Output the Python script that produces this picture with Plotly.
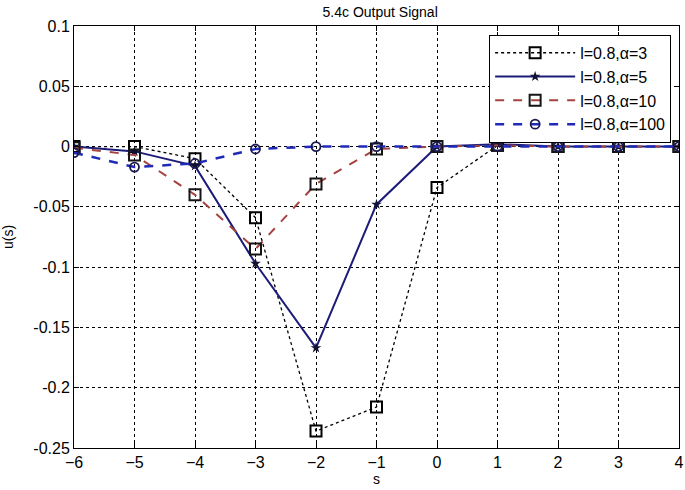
import plotly.graph_objects as go

s = [-6, -5, -4, -3, -2, -1, 0, 1, 2, 3, 4]
u_a3 = [0.0, 0.0, -0.010, -0.059, -0.236, -0.216, -0.034, 0.001, 0.0, 0.0, 0.0]
u_a5 = [0.0, -0.004, -0.016, -0.097, -0.167, -0.048, 0.0, 0.002, 0.0, 0.0, 0.0]
u_a10 = [-0.001, -0.007, -0.040, -0.085, -0.031, -0.002, 0.0, 0.001, 0.0, 0.0, 0.0]
u_a100 = [-0.005, -0.017, -0.014, -0.002, 0.0, 0.0, 0.0, 0.0, 0.0, 0.0, 0.0]
names = ["l=0.8,α=3", "l=0.8,α=5", "l=0.8,α=10", "l=0.8,α=100"]
x_ticks = [-6, -5, -4, -3, -2, -1, 0, 1, 2, 3, 4]
y_ticks = [0.1, 0.05, 0, -0.05, -0.1, -0.15, -0.2, -0.25]
y_labels = ["0.1", "0.05", "0", "-0.05", "-0.1", "-0.15", "-0.2", "-0.25"]

FONT = "Liberation Sans, Arial"

fig = go.Figure()
fig.add_trace(go.Scatter(x=s, y=u_a3, name=names[0], mode="lines+markers",
                         line=dict(color="black", width=1.3, dash="dot"),
                         marker=dict(symbol="square-open", size=11, color="black",
                                     line=dict(width=2))))
fig.add_trace(go.Scatter(x=s, y=u_a5, name=names[1], mode="lines+markers",
                         line=dict(color="#1c1c78", width=2),
                         marker=dict(symbol="star", size=8, color="#111133")))
fig.add_trace(go.Scatter(x=s, y=u_a10, name=names[2], mode="lines+markers",
                         line=dict(color="#a5433f", width=2, dash="dash"),
                         marker=dict(symbol="square-open", size=11, color="#151515",
                                     line=dict(width=2))))
fig.add_trace(go.Scatter(x=s, y=u_a100, name=names[3], mode="lines+markers",
                         line=dict(color="#1f2bb8", width=2.5, dash="dash"),
                         marker=dict(symbol="circle-open", size=9, color="#1a1a50",
                                     line=dict(width=1.8))))

axis_common = dict(showline=True, linecolor="black", linewidth=1, mirror="ticks",
                   ticks="inside", ticklen=5, tickcolor="black",
                   showgrid=True, gridcolor="black", griddash="dot", gridwidth=1,
                   zeroline=False, automargin=False,
                   tickfont=dict(family=FONT, size=16, color="black"))

fig.update_layout(
    width=685, height=490,
    paper_bgcolor="white", plot_bgcolor="white",
    margin=dict(l=74, r=6, t=26, b=42, autoexpand=False),
    title=dict(text="5.4c Output Signal", x=0.555, xanchor="center",
               y=0.976, yanchor="middle", automargin=False,
               font=dict(family=FONT, size=14, color="black")),
    xaxis=dict(range=[-6, 4], tickvals=x_ticks, title=dict(text="s", standoff=3,
               font=dict(family=FONT, size=14, color="black")), **axis_common),
    yaxis=dict(range=[-0.25, 0.1], tickvals=y_ticks, ticktext=y_labels,
               title=dict(text="u(s)", standoff=16,
               font=dict(family=FONT, size=14, color="black")), **axis_common),
    legend=dict(x=0.987, xanchor="right", y=0.979, yanchor="top",
                bgcolor="white", bordercolor="black", borderwidth=1,
                font=dict(family=FONT, size=16, color="black"),
                itemwidth=80, tracegroupgap=0),
    showlegend=True,
)

fig.write_html("out.html", config={"displayModeBar": False},
               post_script="document.body.style.margin='0px';document.body.style.overflow='hidden';")
